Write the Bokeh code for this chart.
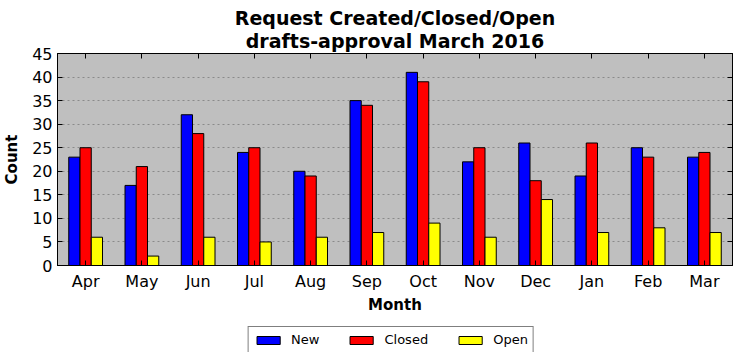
from bokeh.plotting import figure
from bokeh.layouts import column
from bokeh.models import (Range1d, LinearAxis, Legend,
                          LegendItem, Title, FixedTicker, ColumnDataSource)
from bokeh.transform import dodge
from bokeh.embed import file_html
from bokeh.resources import INLINE

months = ["Apr", "May", "Jun", "Jul", "Aug", "Sep", "Oct", "Nov", "Dec", "Jan", "Feb", "Mar"]
new_counts = [23, 17, 32, 24, 20, 35, 41, 22, 26, 19, 25, 23]
closed_counts = [25, 21, 28, 25, 19, 34, 39, 25, 18, 26, 23, 24]
open_counts = [6, 2, 6, 5, 6, 7, 9, 6, 14, 7, 8, 7]
y_ticks = [0, 5, 10, 15, 20, 25, 30, 35, 40, 45]
series_names = ["New", "Closed", "Open"]
series_colors = ["#0000ff", "#ff0000", "#ffff00"]

FONT = "DejaVu Sans"

idx = list(range(len(months)))
src = ColumnDataSource(dict(idx=idx, month=months, new=new_counts,
                            closed=closed_counts, open=open_counts))

p = figure(x_range=Range1d(-0.5, len(months) - 0.5), y_range=Range1d(0, 45),
           frame_width=675, frame_height=212, output_backend="svg", toolbar_location=None,
           title=None, min_border_left=49, min_border_right=1,
           min_border_top=45, min_border_bottom=40)
p.margin = (6, 0, 0, 0)

p.background_fill_color = "#bfbfbf"
p.border_fill_color = "white"
p.outline_line_color = "black"
p.outline_line_width = 1

cols = ["new", "closed", "open"]
for col, off, colr in zip(cols, [-0.2, 0.0, 0.2], series_colors):
    p.vbar(x=dodge("idx", off), top=col, width=0.2, source=src,
           fill_color=colr, line_color="black", line_width=1)

p.xgrid.visible = False
p.ygrid.grid_line_color = "#8a8a8a"
p.ygrid.grid_line_dash = "2 3"
p.ygrid.grid_line_width = 1
p.ygrid.ticker = FixedTicker(ticks=y_ticks)

# bottom axis
xa = p.xaxis[0]
xa.ticker = FixedTicker(ticks=idx)
xa.major_label_overrides = {i: m for i, m in zip(idx, months)}
xa.major_tick_in = 5
xa.major_tick_out = 0
xa.minor_tick_line_color = None
xa.axis_line_color = "black"
xa.major_label_text_font = FONT
xa.major_label_text_font_size = "16px"
xa.major_label_text_color = "black"
xa.major_label_standoff = 6
xa.axis_label = "Month"
xa.axis_label_text_font = FONT
xa.axis_label_text_font_size = "15px"
xa.axis_label_text_font_style = "bold"
xa.axis_label_text_color = "black"
xa.axis_label_standoff = 2

# left axis
ya = p.yaxis[0]
ya.ticker = FixedTicker(ticks=y_ticks)
ya.major_tick_in = 5
ya.major_tick_out = 0
ya.minor_tick_line_color = None
ya.axis_line_color = "black"
ya.major_label_text_font = FONT
ya.major_label_text_font_size = "16px"
ya.major_label_text_color = "black"
ya.major_label_standoff = 5
ya.axis_label = "Count"
ya.axis_label_text_font = FONT
ya.axis_label_text_font_size = "15px"
ya.axis_label_text_font_style = "bold"
ya.axis_label_text_color = "black"
ya.axis_label_standoff = 8

# mirrored ticks (top and right), no labels
ra = LinearAxis(ticker=FixedTicker(ticks=y_ticks), major_tick_in=5, major_tick_out=0,
                minor_tick_line_color=None, major_label_standoff=0, axis_line_color="black",
                major_label_overrides={t: "" for t in y_ticks})
p.add_layout(ra, "right")
ta = LinearAxis(ticker=FixedTicker(ticks=idx),
                major_tick_in=5, major_tick_out=0, minor_tick_line_color=None,
                major_label_standoff=0, axis_line_color="black",
                major_label_overrides={i: "" for i in idx})
p.add_layout(ta, "above")

# titles (first added is closest to the plot)
t2 = Title(text="drafts-approval March 2016", align="center", text_font=FONT,
           text_font_size="19px", text_font_style="bold", text_color="black", standoff=3)
t1 = Title(text="Request Created/Closed/Open", align="center", text_font=FONT,
           text_font_size="19px", text_font_style="bold", text_color="black", standoff=-4)
p.add_layout(t2, "above")
p.add_layout(t1, "above")

# legend strip below the chart (its bars lie outside its visible range)
lf = figure(width=725, height=36, x_range=Range1d(100, 101), y_range=Range1d(100, 101),
            output_backend="svg", toolbar_location=None, title=None,
            x_axis_location=None, y_axis_location=None, min_border=0)
lf.min_border_left = 49
lf.min_border_right = 1
lf.xgrid.visible = False
lf.ygrid.visible = False
lf.outline_line_color = None
lf.background_fill_color = "white"
lf.border_fill_color = "white"

items = []
for name, col, colr in zip(series_names, cols, series_colors):
    r = lf.vbar(x="idx", top=col, width=0.2, source=src,
                fill_color=colr, line_color="black", line_width=1)
    items.append(LegendItem(label=name, renderers=[r]))

legend = Legend(items=items, orientation="horizontal", location="top_center",
                glyph_width=29, glyph_height=10, label_standoff=9, spacing=27,
                padding=5, label_height=14, label_width=20, margin=10,
                label_text_font=FONT, label_text_font_size="13px", label_text_color="black",
                border_line_color="black", border_line_width=1,
                background_fill_color="white", background_fill_alpha=1.0)
lf.add_layout(legend, "center")

layout = column(p, lf, spacing=0)
open("out.html", "w").write(file_html(layout, INLINE))
